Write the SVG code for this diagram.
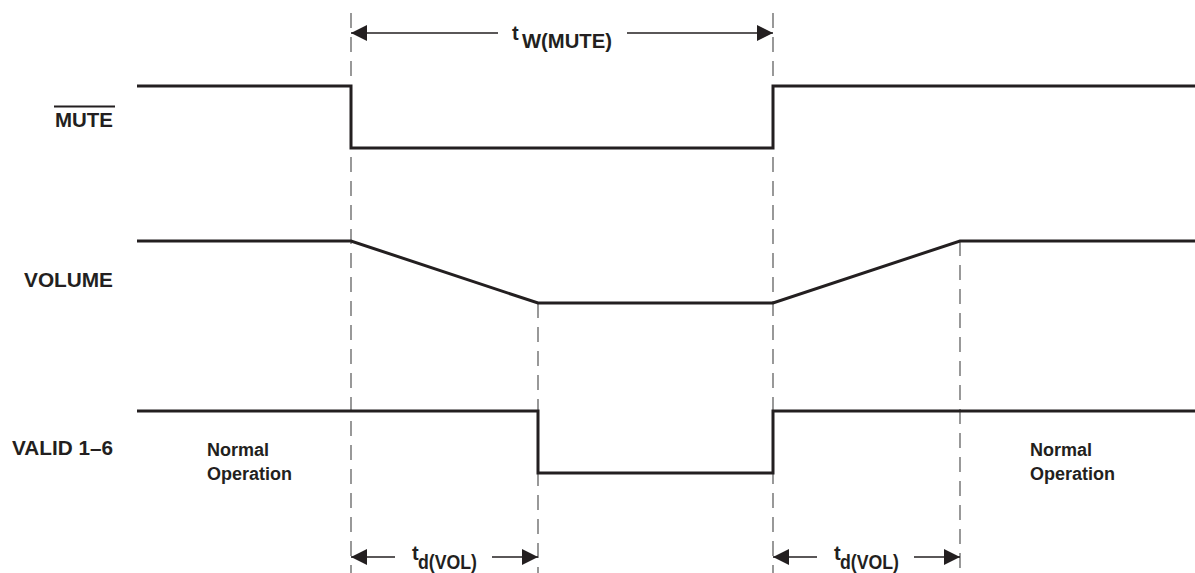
<svg xmlns="http://www.w3.org/2000/svg" width="1195" height="573" viewBox="0 0 1195 573">
<style>
.sig{fill:none;stroke:#231f20;stroke-width:3;stroke-linejoin:miter;stroke-linecap:butt}
.dash{fill:none;stroke:#555;stroke-width:1.2;stroke-dasharray:15,9}
.dim{fill:none;stroke:#231f20;stroke-width:1.3}
.lbl{font-family:"Liberation Sans",Arial,sans-serif;font-weight:bold;font-size:20px;fill:#231f20}
.sm{font-family:"Liberation Sans",Arial,sans-serif;font-weight:bold;font-size:18px;fill:#231f20}
</style>
<defs>
<marker id="ah" viewBox="0 0 16 16" refX="16" refY="8" markerWidth="16" markerHeight="16" markerUnits="userSpaceOnUse" orient="auto-start-reverse">
<path d="M0,0 L16,8 L0,16 Z" fill="#231f20"/>
</marker>
</defs>
<g id="connectors">
<line class="dash" x1="351" y1="13" x2="351" y2="573"/>
<line class="dash" x1="773" y1="13" x2="773" y2="573"/>
<line class="dash" x1="538" y1="303" x2="538" y2="573"/>
<line class="dash" x1="960" y1="241" x2="960" y2="573"/>
<line class="dim" x1="351" y1="33" x2="498" y2="33" marker-start="url(#ah)"/>
<line class="dim" x1="627" y1="33" x2="773" y2="33" marker-end="url(#ah)"/>
<line class="dim" x1="351" y1="557" x2="395" y2="557" marker-start="url(#ah)"/>
<line class="dim" x1="492" y1="557" x2="538" y2="557" marker-end="url(#ah)"/>
<line class="dim" x1="773" y1="557" x2="817" y2="557" marker-start="url(#ah)"/>
<line class="dim" x1="914" y1="557" x2="960" y2="557" marker-end="url(#ah)"/>
</g>
<g id="mute">
<polyline class="sig" points="137,86 351,86 351,148 773,148 773,86 1195,86"/>
<text class="lbl" x="55" y="127" textLength="58" lengthAdjust="spacingAndGlyphs">MUTE</text>
<line x1="54" y1="106.5" x2="115" y2="106.5" stroke="#231f20" stroke-width="2"/>
</g>
<g id="volume">
<polyline class="sig" points="137,241 351,241 538,303 773,303 960,241 1195,241"/>
<text class="lbl" x="24" y="287" textLength="89" lengthAdjust="spacingAndGlyphs">VOLUME</text>
</g>
<g id="valid">
<polyline class="sig" points="137,411 538,411 538,473 773,473 773,411 1195,411"/>
<text class="lbl" x="12" y="455" textLength="101" lengthAdjust="spacingAndGlyphs">VALID 1–6</text>
</g>
<g id="normal-left">
<text class="sm" x="207" y="456">Normal</text>
<text class="sm" x="207" y="480">Operation</text>
</g>
<g id="normal-right">
<text class="sm" x="1030" y="456">Normal</text>
<text class="sm" x="1030" y="480">Operation</text>
</g>
<g id="tw-label">
<text class="lbl" x="512" y="40">t<tspan x="522" y="48" textLength="90" lengthAdjust="spacingAndGlyphs">W(MUTE)</tspan></text>
</g>
<g id="td-left">
<text class="lbl" x="412" y="560">t<tspan x="418" y="569" textLength="59" lengthAdjust="spacingAndGlyphs">d(VOL)</tspan></text>
</g>
<g id="td-right">
<text class="lbl" x="834" y="560">t<tspan x="840" y="569" textLength="59" lengthAdjust="spacingAndGlyphs">d(VOL)</tspan></text>
</g>
</svg>
